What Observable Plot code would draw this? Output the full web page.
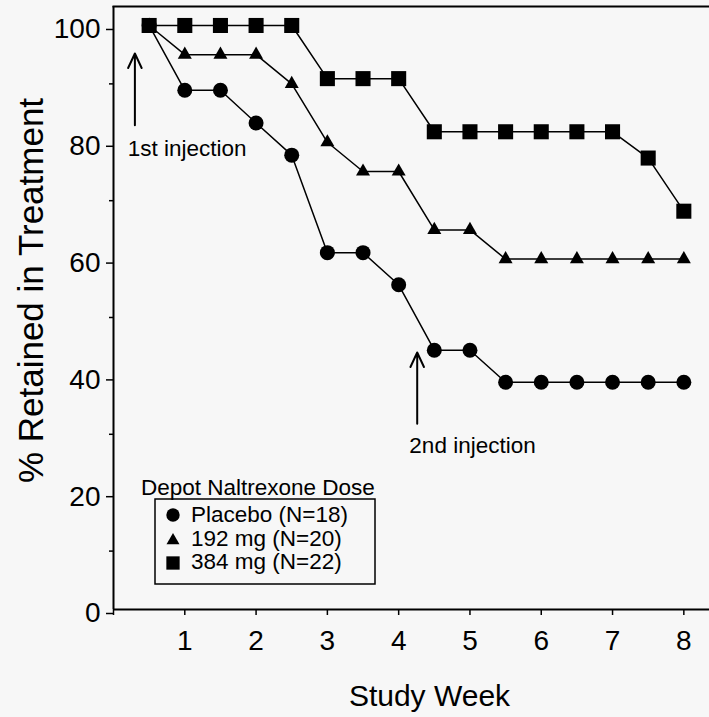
<!DOCTYPE html>
<html><head><meta charset="utf-8">
<script src="https://cdn.jsdelivr.net/npm/d3@7"></script>
<script src="https://cdn.jsdelivr.net/npm/@observablehq/plot@0.6"></script>
<style>
body{margin:0;background:#f7f7f7;}
#wrap{position:relative;width:709px;height:717px;background:#f7f7f7;}
#wrap svg{display:block;}
</style></head><body><div id="wrap"></div>
<script>
// ---- data ----
const weeks   = [0.5,1,1.5,2,2.5,3,3.5,4,4.5,5,5.5,6,6.5,7,7.5,8];
const placebo = [100,88.9,88.9,83.3,77.8,61.1,61.1,55.6,44.4,44.4,38.9,38.9,38.9,38.9,38.9,38.9];
const mg192   = [100,95,95,95,90,80,75,75,65,65,60,60,60,60,60,60];
const mg384   = [100,100,100,100,100,90.9,90.9,90.9,81.8,81.8,81.8,81.8,81.8,81.8,77.3,68.2];
const seriesNames   = ["Placebo (N=18)","192 mg (N=20)","384 mg (N=22)"];
const seriesSymbols = ["circle","triangle","square"];
const yTicks      = [0,20,40,60,80,100];
const yMinorTicks = [10,30,50,70,90];
const xTicks      = [0,1,2,3,4,5,6,7,8];
const xLabel = "Study Week";
const yLabel = "% Retained in Treatment";
const legendTitle = "Depot Naltrexone Dose";
const annotationLabels = ["1st injection","2nd injection"];
const annotationWeek   = [0.3, 4.26];
const arrowFrom        = [82.9, 31.8];
const arrowTo          = [95.2, 44.0];
const labelWeek        = [0.2, 4.15];
const labelPct         = [78.9, 28.0];

// ---- build tables ----
const seriesValues = [placebo, mg192, mg384];
const data = [];
seriesNames.forEach((s, k) => weeks.forEach((w, i) => data.push({week: w, pct: seriesValues[k][i], series: s})));
const notes = annotationLabels.map((t, i) => ({label: t, x: annotationWeek[i], y1: arrowFrom[i], y2: arrowTo[i], lx: labelWeek[i], ly: labelPct[i]}));
const dotR = {circle: 7.5, triangle: 5.2, square: 8.5};

const font = '"Liberation Sans", Arial, Helvetica, sans-serif';

const plot = Plot.plot({
  width: 709, height: 717,
  marginLeft: 113, marginRight: 0, marginTop: 6, marginBottom: 108,
  x: {domain: [0, 8.36]},
  y: {domain: [0, 103.25]},
  style: {background: "#f7f7f7", fontFamily: font, color: "black", overflow: "visible"},
  marks: [
    Plot.frame({anchor: "top", strokeWidth: 2}),
    Plot.ruleY([0], {strokeWidth: 2}),
    Plot.ruleX([0], {strokeWidth: 2}),
    Plot.axisY(yTicks, {tickSize: 7, tickPadding: 6, fontSize: 28, dy: 4, label: null, strokeWidth: 1.5}),
    Plot.axisY(yMinorTicks, {tickSize: 4, text: null, label: null, strokeWidth: 1.5}),
    Plot.axisX(xTicks, {tickSize: 6, tickPadding: 15, fontSize: 28, label: null, strokeWidth: 1.5,
      tickFormat: d => d === 0 ? "" : String(d)}),
    Plot.line(data, {x: "week", y: "pct", z: "series", stroke: "black", strokeWidth: 1.5}),
    ...seriesNames.map((s, k) => Plot.dot(data.filter(d => d.series === s),
      {x: "week", y: "pct", symbol: seriesSymbols[k], r: dotR[seriesSymbols[k]], fill: "black", stroke: "none"})),
    Plot.arrow(notes, {x1: "x", x2: "x", y1: "y1", y2: "y2", stroke: "black", strokeWidth: 2, headLength: 12, headAngle: 50}),
    Plot.text(notes, {x: "lx", y: "ly", text: "label", textAnchor: "start", fontSize: 22.5, fill: "black"}),
    Plot.text([yLabel], {frameAnchor: "left", textAnchor: "middle", lineAnchor: "middle", rotate: -90, dx: -82, dy: -17.5, fontSize: 35, fill: "black"}),
    Plot.text([xLabel], {frameAnchor: "bottom", textAnchor: "middle", lineAnchor: "middle", dx: 18, dy: 86.7, fontSize: 30, fill: "black"})
  ]
});
const wrap = document.getElementById("wrap");
wrap.appendChild(plot);

// ---- legend overlay ----
const lg = d3.select(wrap).append("svg")
  .attr("width", 709).attr("height", 717)
  .style("position", "absolute").style("left", "0px").style("top", "0px")
  .style("pointer-events", "none").style("font-family", font);
lg.append("text").attr("x", 141).attr("y", 495).attr("font-size", 22.5).attr("fill", "black").text(legendTitle);
lg.append("rect").attr("x", 155).attr("y", 499).attr("width", 220).attr("height", 85)
  .attr("fill", "none").attr("stroke", "black").attr("stroke-width", 1.5);
const legSym = {circle: [d3.symbolCircle, 141], triangle: [d3.symbolTriangle, 73], square: [d3.symbolSquare, 177]};
seriesNames.forEach((s, i) => {
  const [type, size] = legSym[seriesSymbols[i]];
  lg.append("path").attr("d", d3.symbol(type, size)())
    .attr("transform", `translate(173,${515 + 24 * i + (seriesSymbols[i] === "triangle" ? 1.5 : 0)})`).attr("fill", "black");
  lg.append("text").attr("x", 191).attr("y", 522 + 23.5 * i).attr("font-size", 22.5).attr("fill", "black").text(s);
});
</script>
</body></html>
